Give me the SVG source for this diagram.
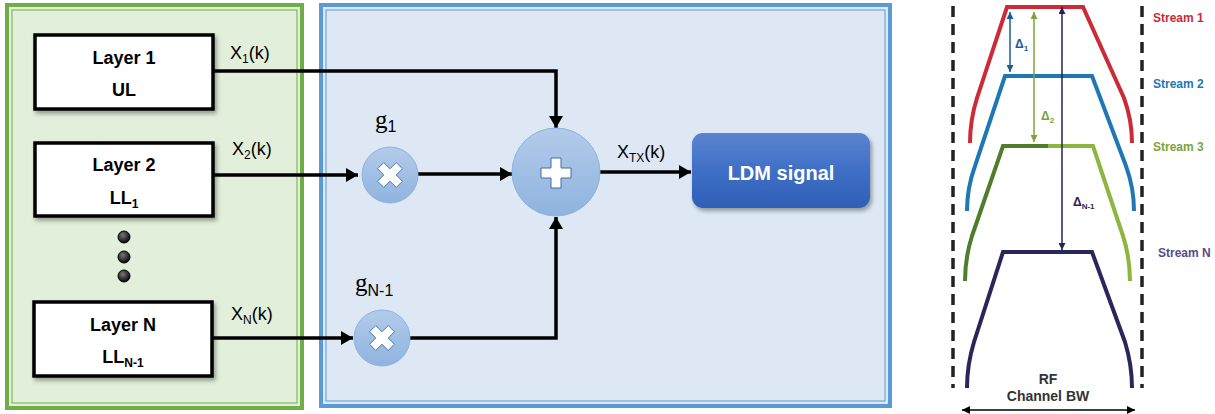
<svg xmlns="http://www.w3.org/2000/svg" width="1215" height="414" viewBox="0 0 1215 414">
<style>
.lay{fill:#fff;stroke:#000;stroke-width:3.5}
.lt{font-family:"Liberation Sans",Arial,sans-serif;font-weight:bold;font-size:18px;fill:#000;text-anchor:middle}
.sig{font-family:"Liberation Sans",Arial,sans-serif;font-size:18px;fill:#000}
.g{font-family:"Liberation Serif","Times New Roman",serif;font-size:25px;fill:#000}
.con{fill:none;stroke:#000;stroke-width:3.5}
.op{fill:url(#cg);stroke:#8db3e0;stroke-width:1}
.icon{fill:#fff;stroke:#41719c;stroke-width:1}
.st{font-family:"Liberation Sans",Arial,sans-serif;font-weight:bold;font-size:12px}
.dl{font-family:"Liberation Sans",Arial,sans-serif;font-weight:bold;font-size:12px}
.sp{fill:none;stroke-width:4}
</style>
<defs>
<linearGradient id="cg" x1="0" y1="0" x2="0" y2="1"><stop offset="0" stop-color="#b3cbea"/><stop offset="1" stop-color="#8fb3df"/></linearGradient>
<linearGradient id="lg" x1="0" y1="0" x2="0" y2="1"><stop offset="0" stop-color="#5a84cf"/><stop offset="0.5" stop-color="#3f6fc6"/><stop offset="1" stop-color="#2f5fb6"/></linearGradient>
<radialGradient id="dg" cx="0.4" cy="0.35" r="0.7"><stop offset="0" stop-color="#777"/><stop offset="1" stop-color="#000"/></radialGradient>
<filter id="sh" x="-10%" y="-10%" width="125%" height="130%"><feDropShadow dx="2" dy="3" stdDeviation="2" flood-color="#000" flood-opacity="0.35"/></filter>
<marker id="ah" viewBox="0 0 12 14" refX="12" refY="7" markerWidth="12" markerHeight="14" markerUnits="userSpaceOnUse" orient="auto"><path d="M0,0L12,7L0,14z" fill="#000"/></marker>
<marker id="sb" viewBox="0 0 8 8" refX="8" refY="4" markerWidth="7" markerHeight="7" markerUnits="userSpaceOnUse" orient="auto-start-reverse"><path d="M0,0L8,4L0,8z" fill="#1a5d96"/></marker>
<marker id="sg" viewBox="0 0 8 8" refX="8" refY="4" markerWidth="7" markerHeight="7" markerUnits="userSpaceOnUse" orient="auto-start-reverse"><path d="M0,0L8,4L0,8z" fill="#7aa33a"/></marker>
<marker id="sn" viewBox="0 0 8 8" refX="8" refY="4" markerWidth="7" markerHeight="7" markerUnits="userSpaceOnUse" orient="auto-start-reverse"><path d="M0,0L8,4L0,8z" fill="#242456"/></marker>
<marker id="sk" viewBox="0 0 8 8" refX="8" refY="4" markerWidth="8" markerHeight="8" markerUnits="userSpaceOnUse" orient="auto-start-reverse"><path d="M0,0L8,4L0,8z" fill="#000"/></marker>
<path id="plus" d="M-5,-15H5V-5H15V5H5V15H-5V5H-15V-5H-5z"/>
</defs>

<g id="green-panel">
<rect x="7" y="5" width="295" height="403" fill="#e2efda" stroke="#70ad47" stroke-width="4"/>
<rect x="12" y="10" width="285" height="393" fill="none" stroke="#70ad47" stroke-width="1"/>
</g>
<g id="blue-panel">
<rect x="321" y="5" width="569" height="401" fill="#dde8f4" stroke="#5b9bd5" stroke-width="4"/>
<rect x="326" y="10" width="559" height="391" fill="none" stroke="#5b9bd5" stroke-width="1"/>
</g>

<g id="layer1">
<rect class="lay" x="35" y="35" width="178" height="74" filter="url(#sh)"/>
<text class="lt" x="124" y="64">Layer 1</text>
<text class="lt" x="124" y="96">UL</text>
</g>
<g id="layer2">
<rect class="lay" x="35" y="143" width="178" height="73" filter="url(#sh)"/>
<text class="lt" x="124" y="171">Layer 2</text>
<text class="lt" x="124" y="204">LL<tspan font-size="12" dy="4">1</tspan></text>
</g>
<g id="dots">
<circle cx="124" cy="237" r="6" fill="url(#dg)" stroke="#000" stroke-width="1"/>
<circle cx="124" cy="257" r="6" fill="url(#dg)" stroke="#000" stroke-width="1"/>
<circle cx="124" cy="276" r="6" fill="url(#dg)" stroke="#000" stroke-width="1"/>
</g>
<g id="layerN">
<rect class="lay" x="34" y="302" width="178" height="74" filter="url(#sh)"/>
<text class="lt" x="123" y="331">Layer N</text>
<text class="lt" x="123" y="363">LL<tspan font-size="12" dy="4">N-1</tspan></text>
</g>

<g id="connectors">
<path class="con" d="M213,71H556V128" marker-end="url(#ah)"/>
<path class="con" d="M213,175H358" marker-end="url(#ah)"/>
<path class="con" d="M418,174H512" marker-end="url(#ah)"/>
<path class="con" d="M212,338H353" marker-end="url(#ah)"/>
<path class="con" d="M409,338H556V217" marker-end="url(#ah)"/>
<path class="con" d="M600,172H691" marker-end="url(#ah)"/>
</g>

<g id="labels">
<text class="sig" x="230" y="59">X<tspan font-size="12" dy="4">1</tspan><tspan dy="-4">(k)</tspan></text>
<text class="sig" x="232" y="155">X<tspan font-size="12" dy="4">2</tspan><tspan dy="-4">(k)</tspan></text>
<text class="sig" x="231" y="320">X<tspan font-size="12" dy="4">N</tspan><tspan dy="-4">(k)</tspan></text>
<text class="sig" x="617" y="158">X<tspan font-size="12" dy="4">TX</tspan><tspan dy="-4">(k)</tspan></text>
<text class="g" x="375" y="128">g<tspan font-size="16" dy="4" font-family="Liberation Sans,Arial,sans-serif">1</tspan></text>
<text class="g" x="355" y="291">g<tspan font-size="16" dy="5" font-family="Liberation Sans,Arial,sans-serif">N-1</tspan></text>
</g>

<g id="mult1">
<circle class="op" cx="390" cy="175" r="28"/>
<use href="#plus" class="icon" transform="translate(390,175) rotate(45) scale(0.88)"/>
</g>
<g id="multN">
<circle class="op" cx="382" cy="338" r="28"/>
<use href="#plus" class="icon" transform="translate(382,338) rotate(45) scale(0.88)"/>
</g>
<g id="sum">
<circle class="op" cx="556" cy="172" r="44"/>
<use href="#plus" class="icon" transform="translate(556,173)"/>
</g>
<g id="ldm">
<rect x="692" y="133" width="178" height="75" rx="11" fill="url(#lg)" filter="url(#sh)"/>
<text x="781" y="180" text-anchor="middle" font-family="Liberation Sans,Arial,sans-serif" font-weight="bold" font-size="20" fill="#fff">LDM signal</text>
</g>

<g id="spectrum">
<line x1="953" y1="6" x2="953" y2="388" stroke="#222" stroke-width="3.5" stroke-dasharray="11,7"/>
<line x1="1142" y1="6" x2="1142" y2="388" stroke="#222" stroke-width="3.5" stroke-dasharray="11,7"/>
<path class="sp" stroke="#cc2a36" d="M970,143Q970,120 977,98L1007,7H1083L1124,98Q1132,120 1132,143"/>
<path class="sp" stroke="#1f77b4" d="M967,211Q967,188 975,166L1005,76H1092L1126,166Q1134,188 1134,211"/>
<path class="sp" stroke="#4f7d2c" d="M965,281Q965,258 972,236L1003,146H1048"/>
<path class="sp" stroke="#8cb63f" d="M1048,146H1093L1123,236Q1130,258 1130,281"/>
<path class="sp" stroke="#27275a" d="M967,388Q967,365 974,342L1003,252H1092L1125,342Q1132,365 1132,388"/>
<line x1="1010" y1="12" x2="1010" y2="72" stroke="#1a5d96" stroke-width="1.5" marker-start="url(#sb)" marker-end="url(#sb)"/>
<line x1="1034" y1="12" x2="1034" y2="142" stroke="#7aa33a" stroke-width="1.5" marker-start="url(#sg)" marker-end="url(#sg)"/>
<line x1="1062" y1="7" x2="1062" y2="250" stroke="#242456" stroke-width="1.5" marker-start="url(#sn)" marker-end="url(#sn)"/>
<text class="dl" x="1015" y="48" fill="#1a5d96">Δ<tspan font-size="8" dy="3">1</tspan></text>
<text class="dl" x="1041" y="120" fill="#7aa33a">Δ<tspan font-size="8" dy="3">2</tspan></text>
<text class="dl" x="1073" y="206" fill="#242456">Δ<tspan font-size="8" dy="3">N-1</tspan></text>
<text class="st" x="1153" y="22" fill="#cc2a36">Stream 1</text>
<text class="st" x="1153" y="88" fill="#1f77b4">Stream 2</text>
<text class="st" x="1153" y="151" fill="#7aa33a">Stream 3</text>
<text class="st" x="1158" y="257" fill="#5b4a8b">Stream N</text>
<text x="1048" y="384" text-anchor="middle" font-family="Liberation Sans,Arial,sans-serif" font-weight="bold" font-size="14" fill="#333">RF</text>
<text x="1048" y="401" text-anchor="middle" font-family="Liberation Sans,Arial,sans-serif" font-weight="bold" font-size="14" fill="#333">Channel BW</text>
<line x1="962" y1="410" x2="1135" y2="410" stroke="#000" stroke-width="1.5" marker-start="url(#sk)" marker-end="url(#sk)"/>
</g>
</svg>
